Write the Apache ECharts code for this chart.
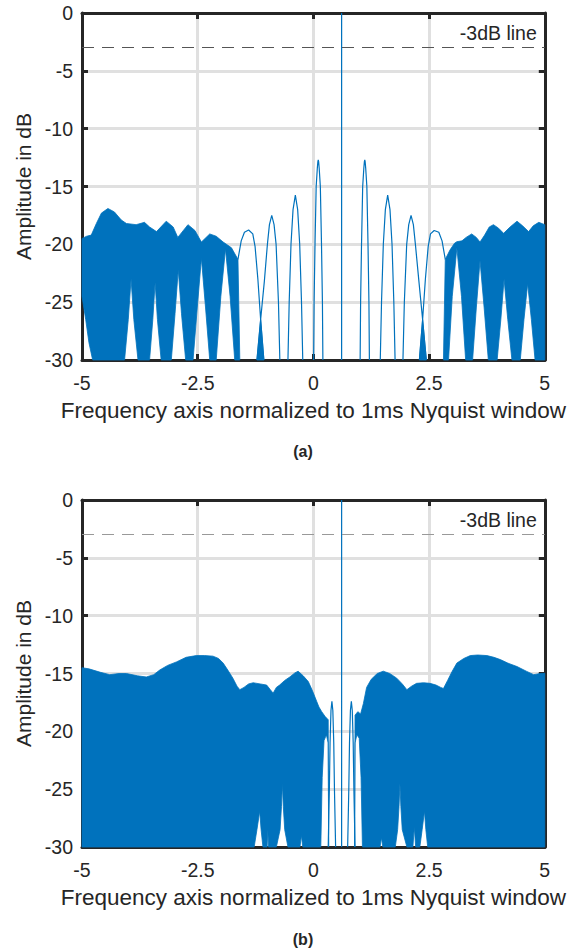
<!DOCTYPE html>
<html><head><meta charset="utf-8">
<script src="https://cdn.jsdelivr.net/npm/echarts@6/dist/echarts.min.js"></script>
<style>html,body{margin:0;padding:0;background:#fff}#c{width:568px;height:949px}</style>
</head><body><div id="c"></div>
<script>
// ---------- axes ----------
const xMin = -5, xMax = 5, xStep = 2.5;
const yMin = -30, yMax = 0, yStep = 5;
const thresholdDb = -3;
const thresholdLabel = '-3dB line';
const xTitle = 'Frequency axis normalized to 1ms Nyquist window';
const yTitle = 'Amplitude in dB';
const captions = ['(a)', '(b)'];

// ---------- panel (a): thin side-lobe trace ([x, dB]; '-' breaks the line) ----------
const lobesA = [
  [-1.63,-21.3],[-1.56,-19.7],[-1.49,-18.95],[-1.40,-18.76],[-1.31,-19.1],[-1.26,-20.2],[-1.20,-23.0],[-1.14,-26.5],[-1.07,-30],['-','-'],
  [-1.22,-30],[-1.14,-26.5],[-1.06,-23.2],[-0.994,-20],[-0.95,-18.3],[-0.90,-17.5],[-0.85,-18.3],[-0.806,-20],[-0.755,-25],[-0.725,-30],['-','-'],
  [-0.55,-30],[-0.523,-25],[-0.484,-20],[-0.44,-17],[-0.39,-15.75],[-0.34,-17],[-0.296,-20],[-0.257,-25],[-0.23,-30],['-','-'],
  [0.005,-30],[0.015,-25],[0.035,-20],[0.06,-15],[0.085,-13.4],[0.097,-12.85],[0.105,-12.7],[0.113,-12.85],[0.125,-13.4],[0.15,-15],[0.175,-20],[0.195,-25],[0.205,-30],['-','-'],
  [0.61,-30],[0.61,0],['-','-'],
  [1.01,-30],[1.02,-25],[1.04,-20],[1.065,-15],[1.09,-13.4],[1.102,-12.85],[1.11,-12.7],[1.118,-12.85],[1.13,-13.4],[1.155,-15],[1.18,-20],[1.20,-25],[1.21,-30],['-','-'],
  [1.445,-30],[1.472,-25],[1.511,-20],[1.555,-17],[1.605,-15.75],[1.655,-17],[1.699,-20],[1.738,-25],[1.765,-30],['-','-'],
  [1.935,-30],[1.965,-25],[2.016,-20],[2.06,-18.3],[2.11,-17.5],[2.16,-18.3],[2.204,-20],[2.28,-23.2],[2.36,-26.5],[2.44,-30],['-','-'],
  [2.29,-30],[2.36,-26.5],[2.42,-23.0],[2.48,-20.2],[2.53,-19.1],[2.61,-18.8],[2.71,-18.95],[2.78,-19.7],[2.85,-21.3]
];

// ---------- panel (a): dense regions, upper and lower bounds ([x, dB]) ----------
const aLeftUpper = [[-5.00,-19.5],[-4.90,-19.3],[-4.80,-19.2],[-4.69,-18.2],[-4.58,-17.3],[-4.44,-16.9],[-4.30,-17.2],[-4.15,-17.9],[-4.04,-18.2],[-3.83,-18.3],[-3.65,-18.1],[-3.54,-18.5],[-3.39,-18.9],[-3.18,-18.0],[-3.03,-18.5],[-2.93,-19.4],[-2.71,-18.3],[-2.56,-18.8],[-2.42,-19.8],[-2.24,-19.1],[-2.10,-19.3],[-1.95,-19.8],[-1.77,-20.3],[-1.63,-21.3],[-1.59,-30]];
const aLeftLower = [[-5.00,-24.5],[-4.92,-26.5],[-4.85,-28.5],[-4.77,-30],[-4.08,-30],[-4.00,-26.5],[-3.94,-23.0],[-3.88,-26.5],[-3.79,-30],[-3.54,-30],[-3.47,-26.5],[-3.42,-23.3],[-3.37,-26.5],[-3.29,-30],[-3.07,-30],[-2.99,-26],[-2.92,-22.2],[-2.85,-26],[-2.76,-30],[-2.60,-30],[-2.51,-25.5],[-2.42,-21.2],[-2.33,-25.5],[-2.24,-30],[-2.10,-30],[-2.00,-24.5],[-1.90,-20.4],[-1.80,-24.5],[-1.70,-30],[-1.59,-30]];
const aRightUpper = [[2.81,-30],[2.85,-21.3],[2.95,-20.5],[3.05,-19.9],[3.10,-19.77],[3.21,-19.7],[3.30,-19.4],[3.42,-19.1],[3.52,-19.4],[3.60,-19.8],[3.70,-19.2],[3.80,-18.5],[3.89,-18.3],[4.00,-18.6],[4.11,-19.05],[4.25,-18.5],[4.40,-18.0],[4.52,-18.4],[4.65,-18.9],[4.75,-18.4],[4.87,-18.1],[5.00,-18.3]];
const aRightLower = [[2.81,-30],[2.92,-30],[3.00,-24.5],[3.10,-20.3],[3.20,-24.5],[3.29,-30],[3.44,-30],[3.52,-25.5],[3.60,-21.4],[3.69,-25.5],[3.78,-30],[3.97,-30],[4.05,-26.5],[4.12,-23.0],[4.20,-26.5],[4.29,-30],[4.47,-30],[4.55,-26.5],[4.63,-23.4],[4.71,-26.5],[4.79,-30],[5.00,-30]];
const aCrossLeftUpper = [[-1.22,-30],[-1.14,-26.5],[-1.07,-30]];
const aCrossLeftLower = [[-1.22,-30],[-1.07,-30]];
const aCrossRightUpper = [[2.29,-30],[2.36,-26.5],[2.44,-30]];
const aCrossRightLower = [[2.29,-30],[2.44,-30]];

// ---------- panel (b): thin trace ----------
const lobesB = [
  [0.32,-30],[0.345,-25],[0.36,-21],[0.38,-18.2],[0.40,-17.4],[0.42,-18.2],[0.44,-21],[0.455,-25],[0.48,-30],['-','-'],
  [0.61,-30],[0.61,0],['-','-'],
  [0.74,-30],[0.765,-25],[0.78,-21],[0.80,-18.2],[0.82,-17.4],[0.84,-18.2],[0.86,-21],[0.875,-25],[0.90,-30]
];

// ---------- panel (b): dense regions ----------
const bLeftUpper = [[-5.00,-14.5],[-4.85,-14.6],[-4.60,-14.9],[-4.40,-15.1],[-4.20,-15.0],[-4.04,-15.0],[-3.80,-15.2],[-3.61,-15.3],[-3.45,-15.1],[-3.32,-14.7],[-3.15,-14.3],[-2.96,-14.0],[-2.75,-13.6],[-2.53,-13.45],[-2.35,-13.45],[-2.17,-13.5],[-2.05,-13.7],[-1.95,-14.1],[-1.85,-14.7],[-1.74,-15.4],[-1.65,-16.1],[-1.59,-16.4],[-1.50,-16.2],[-1.40,-15.9],[-1.30,-15.8],[-1.15,-15.9],[-1.01,-16.0],[-0.93,-16.4],[-0.87,-16.7],[-0.80,-16.2],[-0.73,-16.0],[-0.62,-15.6],[-0.51,-15.3],[-0.40,-14.95],[-0.33,-14.8],[-0.22,-15.2],[-0.11,-15.7],[-0.02,-16.5],[0.07,-17.4],[0.12,-17.9],[0.18,-18.3],[0.25,-18.7],[0.32,-19.0],[0.33,-30]];
const bLeftLower = [[-5.00,-30],[-1.28,-30],[-1.22,-28.5],[-1.16,-26.9],[-1.13,-28.5],[-1.09,-30],[-1.00,-30],[-0.985,-28.5],[-0.97,-30],[-0.80,-30],[-0.72,-28.5],[-0.69,-26.5],[-0.67,-24.5],[-0.65,-26.5],[-0.62,-28.5],[-0.55,-30],[-0.29,-30],[-0.26,-29.0],[-0.23,-30],[0.16,-30],[0.19,-24.0],[0.23,-20.8],[0.28,-20.3],[0.32,-21.0],[0.33,-30]];
const bRightUpper = [[0.89,-30],[0.90,-18.6],[0.96,-18.3],[1.02,-18.5],[1.08,-17.6],[1.15,-16.2],[1.25,-15.5],[1.38,-15.0],[1.51,-14.8],[1.65,-15.0],[1.80,-15.4],[1.92,-15.9],[2.02,-16.4],[2.12,-16.1],[2.23,-15.85],[2.38,-15.8],[2.52,-15.85],[2.65,-16.0],[2.75,-16.2],[2.81,-16.3],[2.90,-15.6],[3.00,-14.8],[3.10,-14.1],[3.25,-13.7],[3.39,-13.45],[3.55,-13.4],[3.75,-13.45],[3.90,-13.6],[4.04,-13.8],[4.20,-14.1],[4.40,-14.4],[4.60,-14.8],[4.76,-15.1],[4.90,-15.0],[5.00,-14.98]];
const bRightLower = [[0.89,-30],[0.90,-21.0],[0.94,-20.3],[0.99,-20.6],[1.03,-24.0],[1.06,-30],[1.44,-30],[1.47,-29.2],[1.50,-30],[1.77,-30],[1.82,-28.5],[1.85,-26.5],[1.87,-24.5],[1.89,-26.5],[1.92,-28.5],[2.02,-30],[2.15,-30],[2.18,-28.3],[2.21,-30],[2.30,-30],[2.35,-28.5],[2.40,-26.9],[2.43,-28.5],[2.47,-30],[5.00,-30]];

// ---------- styling ----------
const BLUE = '#0072BD';
const INK = '#262626';
const GRIDC = '#e0e0e0';
const FONT = 'Liberation Sans, Arial, sans-serif';

const regionsA = [
  {upper: aLeftUpper, lower: aLeftLower},
  {upper: aRightUpper, lower: aRightLower},
  {upper: aCrossLeftUpper, lower: aCrossLeftLower},
  {upper: aCrossRightUpper, lower: aCrossRightLower}
];
const regionsB = [
  {upper: bLeftUpper, lower: bLeftLower},
  {upper: bRightUpper, lower: bRightLower}
];

const grids = [
  {left: 82, top: 13, width: 463, height: 347},
  {left: 82, top: 500, width: 463, height: 347}
];

function xAxes(g) {
  const common = {type: 'value', gridIndex: g, min: xMin, max: xMax, interval: xStep};
  const line = {show: true, onZero: false, lineStyle: {color: INK, width: 3}};
  const tick = {show: true, inside: true, length: 6, lineStyle: {color: INK, width: 3}};
  return [
    Object.assign({}, common, {position: 'bottom', axisLine: line, axisTick: tick,
      axisLabel: {show: true, margin: 13, color: INK, fontSize: 19.5, fontFamily: FONT},
      splitLine: {show: true, lineStyle: {color: GRIDC, width: 3}},
      name: xTitle, nameLocation: 'middle', nameGap: 39,
      nameTextStyle: {color: INK, fontSize: 22.5, fontFamily: FONT}}),
    Object.assign({}, common, {position: 'top', axisLine: line, axisTick: tick,
      axisLabel: {show: false}, splitLine: {show: false}})
  ];
}
function yAxes(g) {
  const common = {type: 'value', gridIndex: g, min: yMin, max: yMax, interval: yStep};
  const line = {show: true, onZero: false, lineStyle: {color: INK, width: 3}};
  const tick = {show: true, inside: true, length: 6, lineStyle: {color: INK, width: 3}};
  return [
    Object.assign({}, common, {position: 'left', axisLine: line, axisTick: tick,
      axisLabel: {show: true, margin: 9, color: INK, fontSize: 19.5, fontFamily: FONT},
      splitLine: {show: true, lineStyle: {color: GRIDC, width: 3}},
      name: yTitle, nameLocation: 'middle', nameGap: 47,
      nameTextStyle: {color: INK, fontSize: 21, fontFamily: FONT}}),
    Object.assign({}, common, {position: 'right', axisLine: line, axisTick: tick,
      axisLabel: {show: false}, splitLine: {show: false}})
  ];
}

function makeRender(regions) {
  return function (params, api) {
    const r = regions[params.dataIndex];
    const pts = r.upper.map(p => api.coord(p))
      .concat(r.lower.slice().reverse().map(p => api.coord(p)));
    return {type: 'polygon', shape: {points: pts},
      style: {fill: BLUE, stroke: BLUE, lineWidth: 0.8}};
  };
}

function thresholdLine(color) {
  return {
    symbol: 'none', silent: true, animation: false,
    data: [{yAxis: thresholdDb}],
    lineStyle: {type: [12, 8], color: color, width: 1},
    label: {show: true, formatter: thresholdLabel, position: 'insideEndTop',
      distance: [8, 5], color: INK, fontSize: 19.5, fontFamily: FONT}
  };
}

function panelSeries(g, regions, lobes, dashColor) {
  const xi = g * 2, yi = g * 2;
  return [
    {type: 'custom', coordinateSystem: 'cartesian2d', xAxisIndex: xi, yAxisIndex: yi,
      renderItem: makeRender(regions), silent: true,
      data: regions.map(r => r.upper[0])},
    {type: 'line', xAxisIndex: xi, yAxisIndex: yi, data: lobes,
      showSymbol: false, symbol: 'none', connectNulls: false, silent: true,
      lineStyle: {color: BLUE, width: 1.2},
      markLine: thresholdLine(dashColor)}
  ];
}

const chart = echarts.init(document.getElementById('c'), null, {renderer: 'svg'});
chart.setOption({
  animation: false,
  backgroundColor: '#fff',
  grid: grids,
  xAxis: xAxes(0).concat(xAxes(1)),
  yAxis: yAxes(0).concat(yAxes(1)),
  series: panelSeries(0, regionsA, lobesA, '#555555').concat(panelSeries(1, regionsB, lobesB, '#999999')),
  graphic: [
    {type: 'text', x: 303, y: 451, style: {text: captions[0], fontSize: 16, fontWeight: 'bold',
      fontFamily: FONT, fill: INK, align: 'center', verticalAlign: 'middle'}},
    {type: 'text', x: 303, y: 939, style: {text: captions[1], fontSize: 16, fontWeight: 'bold',
      fontFamily: FONT, fill: INK, align: 'center', verticalAlign: 'middle'}}
  ]
});
</script></body></html>
